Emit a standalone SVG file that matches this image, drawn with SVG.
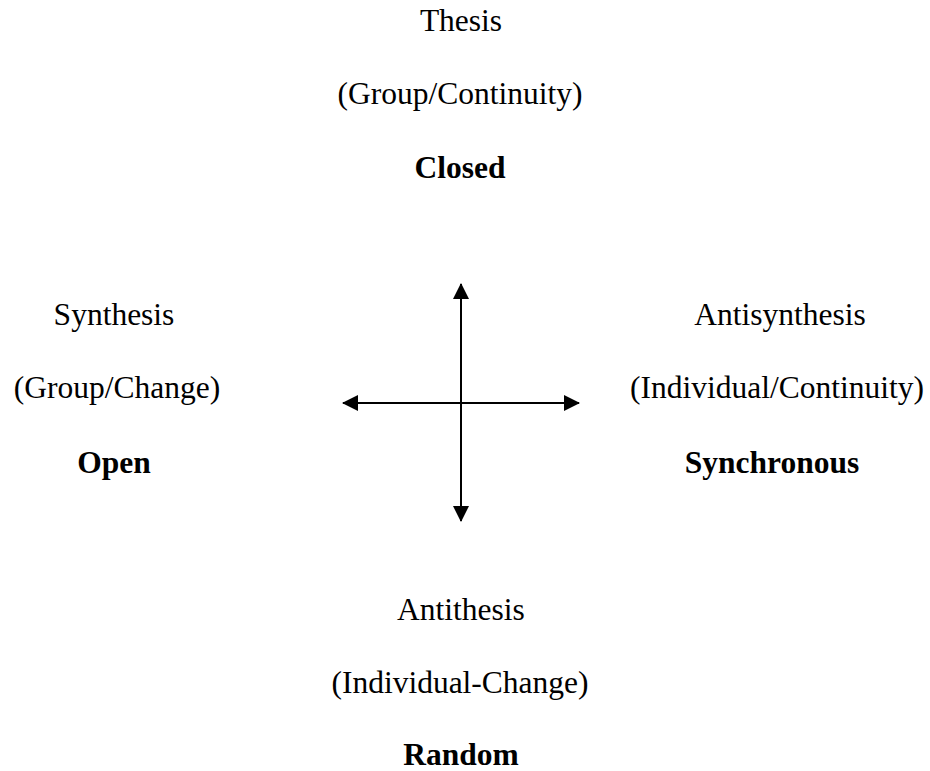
<svg xmlns="http://www.w3.org/2000/svg" width="930" height="771" viewBox="0 0 930 771">
  <defs>
    <style>
      .t { font-family: "Liberation Serif", "Times New Roman", serif; font-size: 31.5px; fill: #000; text-anchor: middle; }
      .b { font-weight: bold; }
      .axis { stroke: #000; stroke-width: 2; fill: none; }
    </style>
    <marker id="head" viewBox="0 0 16 16" refX="15" refY="8" markerWidth="16" markerHeight="16" markerUnits="userSpaceOnUse" orient="auto-start-reverse">
      <path d="M0,0 L16,8 L0,16 Z" fill="#000"/>
    </marker>
  </defs>
  <rect width="930" height="771" fill="#fff"/>

  <g id="connectors">
    <line class="axis" x1="461" y1="284" x2="461" y2="521" marker-start="url(#head)" marker-end="url(#head)"/>
    <line class="axis" x1="343" y1="403" x2="579" y2="403" marker-start="url(#head)" marker-end="url(#head)"/>
  </g>

  <g id="thesis">
    <text class="t" x="461" y="31">Thesis</text>
    <text class="t" x="460" y="104">(Group/Continuity)</text>
    <text class="t b" x="460" y="178">Closed</text>
  </g>

  <g id="synthesis">
    <text class="t" x="114" y="325">Synthesis</text>
    <text class="t" x="117" y="398">(Group/Change)</text>
    <text class="t b" x="114" y="473">Open</text>
  </g>

  <g id="antisynthesis">
    <text class="t" x="780" y="325">Antisynthesis</text>
    <text class="t" x="777" y="398">(Individual/Continuity)</text>
    <text class="t b" x="772" y="473">Synchronous</text>
  </g>

  <g id="antithesis">
    <text class="t" x="461" y="620">Antithesis</text>
    <text class="t" x="460" y="693">(Individual-Change)</text>
    <text class="t b" x="461" y="765">Random</text>
  </g>
</svg>
